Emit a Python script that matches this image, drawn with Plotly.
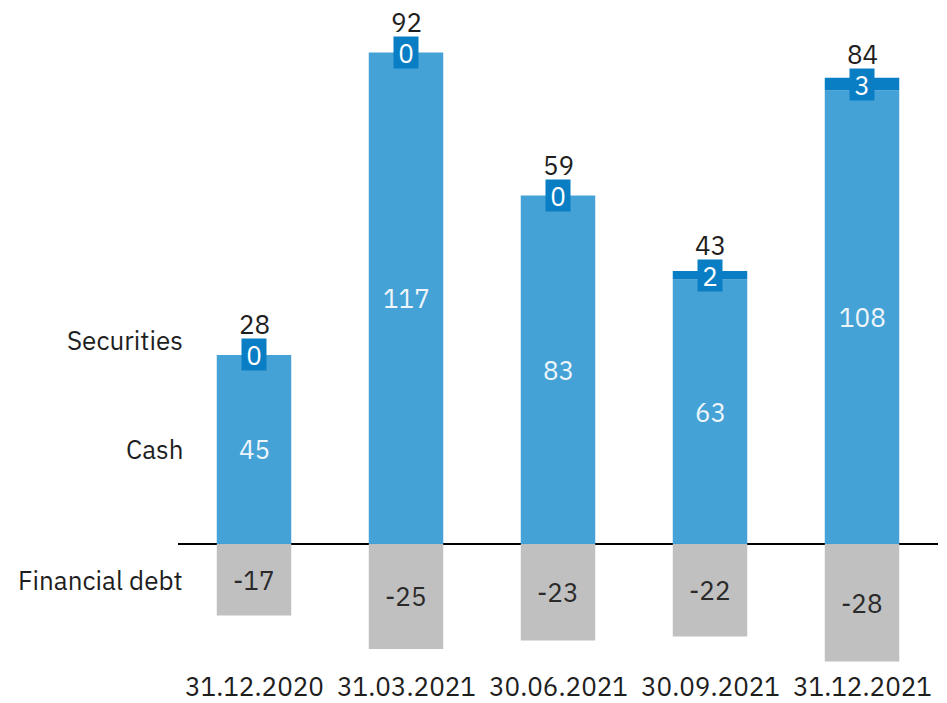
import plotly.graph_objects as go

# Quarter-end dates
periods = ["31.12.2020", "31.03.2021", "30.06.2021", "30.09.2021", "31.12.2021"]

# Components (EUR m)
cash = [45, 117, 83, 63, 108]
securities = [0, 0, 0, 2, 3]
financial_debt = [-17, -25, -23, -22, -28]
net_totals = [28, 92, 59, 43, 84]

row_labels = ["Securities", "Cash", "Financial debt"]

CASH_C = "#44a2d6"
SEC_C = "#0a7ec4"
DEBT_C = "#c0c0c0"
FONT = "IBM Plex Sans, Open Sans, sans-serif"
TXT = "#1e1e1e"
FS = 26

x = list(range(len(periods)))
bar_w = 0.49

fig = go.Figure()
fig.add_trace(go.Bar(x=x, y=cash, width=bar_w, marker=dict(color=CASH_C, line=dict(width=0)), name="Cash"))
fig.add_trace(go.Bar(x=x, y=securities, width=bar_w, marker=dict(color=SEC_C, line=dict(width=0)), name="Securities"))
fig.add_trace(go.Bar(x=x, y=financial_debt, width=bar_w, marker=dict(color=DEBT_C, line=dict(width=0)), name="Financial debt"))

ann = []
for i in x:
    # cash value in the middle of its segment
    ann.append(dict(x=i, y=cash[i] / 2, text=str(cash[i]), showarrow=False,
                    font=dict(family=FONT, size=FS, color="#eef5fb")))
    # securities value boxed on its segment
    sy = cash[i] + securities[i] / 2
    ann.append(dict(x=i, y=sy, text=str(securities[i]), showarrow=False,
                    bgcolor=SEC_C, borderpad=0, width=24, height=31,
                    font=dict(family=FONT, size=FS, color="#ffffff")))
    # net total above
    ann.append(dict(x=i, y=sy, yshift=31, text=str(net_totals[i]), showarrow=False,
                    borderpad=0, height=27,
                    font=dict(family=FONT, size=FS, color=TXT)))
    # debt value
    ann.append(dict(x=i, y=financial_debt[i] / 2, text=str(financial_debt[i]), showarrow=False,
                    font=dict(family=FONT, size=FS, color="#2a2a2a")))
    # period label under the chart
    ann.append(dict(x=i, y=0.0235, yref="paper", text=periods[i], showarrow=False,
                    yanchor="middle", borderpad=0, height=30,
                    font=dict(family=FONT, size=FS, color=TXT)))

# row captions on the left
row_y = [cash[0] + securities[0] / 2, cash[0] / 2, financial_debt[0] / 2]
row_shift = [15, 0, 0]
for lab, yy, ys in zip(row_labels, row_y, row_shift):
    ann.append(dict(x=0, xref="paper", xanchor="right", xshift=7, y=yy, yshift=ys,
                    text=lab, showarrow=False, font=dict(family=FONT, size=FS, color=TXT)))

fig.update_layout(
    width=947, height=703,
    margin=dict(l=178, r=9, t=0, b=0),
    plot_bgcolor="white", paper_bgcolor="white",
    barmode="relative",
    showlegend=False,
    annotations=ann,
    xaxis=dict(range=[-0.5, 4.5], showticklabels=False, showgrid=False, zeroline=False,
               showline=False, ticks=""),
    yaxis=dict(range=[-37.86, 129.52], showticklabels=False, showgrid=False,
               zeroline=True, zerolinecolor="#000000", zerolinewidth=1.5,
               showline=False, ticks=""),
)

fig.write_html("out.html")
